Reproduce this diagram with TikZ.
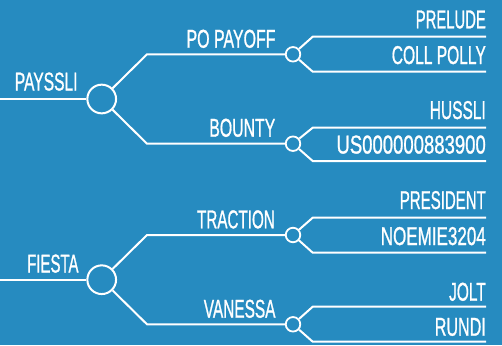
\documentclass[tikz,border=0pt]{standalone}
\usepackage{fontspec}
\usepackage{graphicx}
\setmainfont{Liberation Sans}
\newfontfamily\lblfont[FakeBold=1.2]{Liberation Sans}
\newcommand{\lbx}[2]{\resizebox{#1}{\height}{\lblfont\fontsize{25.8}{26}\selectfont #2}}
\definecolor{bg}{RGB}{38,139,192}
\begin{document}
\begin{tikzpicture}[x=1pt,y=-1pt,
 bigc/.style={circle,draw=white,line width=2pt,minimum size=28.7pt,inner sep=0pt},
 smallc/.style={circle,draw=white,line width=1.8pt,minimum size=14.5pt,inner sep=0pt},
 lbl/.style={anchor=base east,inner sep=0pt,text=white},
 wire/.style={draw=white,line width=2pt}]
\fill[bg] (0,0) rectangle (502,345);
\useasboundingbox (0,0) rectangle (502,345);
% ---------- top tree ----------
\coordinate (s1) at (0,99);
\node[bigc] (r1) at (101.7,99) {};
\coordinate (c1u) at (147,54.3);
\coordinate (c1d) at (147,143.7);
\node[smallc] (b1u) at (293,54.3) {};
\node[smallc] (b1d) at (293,143.7) {};
\coordinate (k1uu) at (312.7,36.7); \coordinate (e1uu) at (486,36.7);
\coordinate (k1ud) at (312.7,71.7); \coordinate (e1ud) at (486,71.7);
\coordinate (k1du) at (312.7,127.7); \coordinate (e1du) at (486,127.7);
\coordinate (k1dd) at (312.7,161); \coordinate (e1dd) at (486,161);
\draw[wire] (s1) -- (r1);
\draw[wire] (r1) -- (c1u) -- (b1u);
\draw[wire] (r1) -- (c1d) -- (b1d);
\draw[wire] (b1u) -- (k1uu) -- (e1uu);
\draw[wire] (b1u) -- (k1ud) -- (e1ud);
\draw[wire] (b1d) -- (k1du) -- (e1du);
\draw[wire] (b1d) -- (k1dd) -- (e1dd);
\node[lbl] (l1) at (77.7,90.5) {\lbx{62.7pt}{PAYSSLI}};
\node[lbl] (l1u) at (275.7,47.7) {\lbx{89pt}{PO PAYOFF}};
\node[lbl] (l1d) at (275.5,136.7) {\lbx{66pt}{BOUNTY}};
\node[lbl] (l1uu) at (486,28.3) {\lbx{70pt}{PRELUDE}};
\node[lbl] (l1ud) at (486,64) {\lbx{94pt}{COLL POLLY}};
\node[lbl] (l1du) at (486,119) {\lbx{56pt}{HUSSLI}};
\node[lbl] (l1dd) at (486,153.5) {\lbx{149.3pt}{US000000883900}};
% ---------- bottom tree ----------
\coordinate (s2) at (0,279.7);
\node[bigc] (r2) at (101.7,279.7) {};
\coordinate (c2u) at (147,235);
\coordinate (c2d) at (147,324.3);
\node[smallc] (b2u) at (293,235) {};
\node[smallc] (b2d) at (293,324.3) {};
\coordinate (k2uu) at (312.7,217.7); \coordinate (e2uu) at (486,217.7);
\coordinate (k2ud) at (312.7,252.7); \coordinate (e2ud) at (486,252.7);
\coordinate (k2du) at (312.7,306.7); \coordinate (e2du) at (486,306.7);
\coordinate (k2dd) at (312.7,341.7); \coordinate (e2dd) at (486,341.7);
\draw[wire] (s2) -- (r2);
\draw[wire] (r2) -- (c2u) -- (b2u);
\draw[wire] (r2) -- (c2d) -- (b2d);
\draw[wire] (b2u) -- (k2uu) -- (e2uu);
\draw[wire] (b2u) -- (k2ud) -- (e2ud);
\draw[wire] (b2d) -- (k2du) -- (e2du);
\draw[wire] (b2d) -- (k2dd) -- (e2dd);
\node[lbl] (l2) at (78.7,272.5) {\lbx{51.3pt}{FIESTA}};
\node[lbl] (l2u) at (275,228.3) {\lbx{77.7pt}{TRACTION}};
\node[lbl] (l2d) at (275.7,317.7) {\lbx{71.7pt}{VANESSA}};
\node[lbl] (l2uu) at (486,209) {\lbx{86pt}{PRESIDENT}};
\node[lbl] (l2ud) at (486,245) {\lbx{105pt}{NOEMIE3204}};
\node[lbl] (l2du) at (486,300.7) {\lbx{36.7pt}{JOLT}};
\node[lbl] (l2dd) at (486,335.7) {\lbx{51pt}{RUNDI}};
\end{tikzpicture}
\end{document}
